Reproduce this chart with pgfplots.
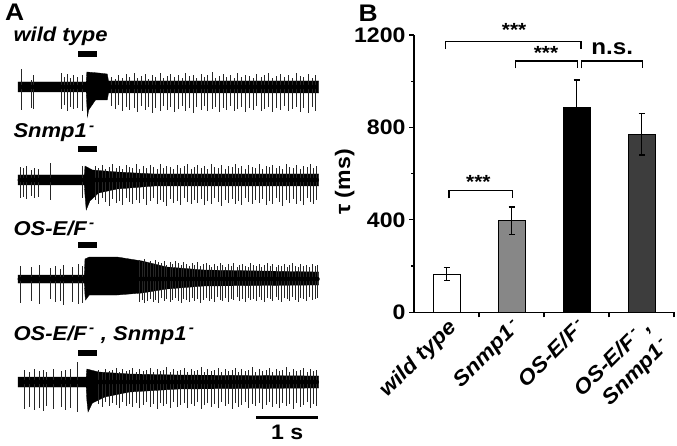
\documentclass[border=0pt]{standalone}
\usepackage{fontspec}
\setmainfont{Liberation Sans}[FakeStretch=1.1]
\usepackage{pgfplots}
\pgfplotsset{compat=1.18}
\usepackage{pgfplotstable}

% spikes: time (s), height above and below the baseline
\pgfplotstableread[row sep=\\]{
t up dn \\
0.06 18 23 \\ 0.21 7 21 \\ 0.25 12 22 \\ 0.70 14 22 \\ 0.74 10 18 \\ 0.79 13 24 \\ 0.84 9 20 \\ 0.90 12 22 \\ 0.95 10 21 \\ 1.03 12 24 \\
1.50 10 19 \\ 1.57 8 22 \\ 1.62 12 18 \\ 1.69 9 24 \\ 1.75 13 20 \\ 1.80 10 23 \\ 1.87 14 21 \\ 1.92 9 25 \\ 1.99 11 19 \\ 2.05 13 23 \\
2.10 8 20 \\ 2.17 12 26 \\ 2.22 10 21 \\ 2.29 14 24 \\ 2.34 9 19 \\ 2.41 11 23 \\ 2.46 13 20 \\ 2.52 10 25 \\ 2.58 12 22 \\ 2.65 9 19 \\
2.70 14 24 \\ 2.76 11 21 \\ 2.83 12 26 \\ 2.88 9 20 \\ 2.95 13 23 \\ 3.00 10 19 \\ 3.06 12 24 \\ 3.13 15 22 \\ 3.18 9 20 \\ 3.24 11 25 \\
3.31 13 21 \\ 3.36 10 23 \\ 3.43 12 19 \\ 3.49 9 24 \\ 3.54 14 22 \\ 3.61 10 20 \\ 3.67 12 25 \\ 3.73 11 21 \\ 3.79 9 23 \\ 3.85 13 19 \\
3.92 10 24 \\ 3.98 12 22 \\ 4.04 14 20 \\ 4.11 9 25 \\ 4.17 11 21 \\ 4.23 13 23 \\ 4.30 10 19 \\ 4.36 12 24 \\ 4.42 9 22 \\ 4.49 14 20 \\
4.55 11 25 \\ 4.61 10 21 \\ 4.68 13 26 \\ 4.74 9 20 \\ 4.80 12 24 \\
}\spkWT

\pgfplotstableread[row sep=\\]{
t up dn \\
0.03 13 18 \\ 0.09 12 17 \\ 0.14 14 19 \\ 0.22 10 16 \\ 0.27 12 18 \\ 0.33 11 17 \\ 0.52 17 20 \\ 1.03 14 18 \\
1.25 14 20 \\ 1.30 12 24 \\ 1.36 15 18 \\ 1.41 11 22 \\ 1.47 13 26 \\ 1.52 16 19 \\ 1.58 12 23 \\ 1.63 14 21 \\ 1.69 11 25 \\ 1.74 15 18 \\
1.80 13 22 \\ 1.85 12 24 \\ 1.91 16 20 \\ 1.96 11 23 \\ 2.02 14 19 \\ 2.07 12 25 \\ 2.13 15 21 \\ 2.18 13 18 \\ 2.24 11 24 \\ 2.29 16 20 \\
2.35 12 22 \\ 2.40 14 26 \\ 2.46 13 19 \\ 2.51 11 23 \\ 2.57 15 21 \\ 2.62 12 25 \\ 2.68 14 18 \\ 2.73 16 22 \\ 2.79 11 24 \\ 2.84 13 20 \\
2.90 15 23 \\ 2.95 12 19 \\ 3.01 14 25 \\ 3.06 11 21 \\ 3.12 16 24 \\ 3.17 13 18 \\ 3.23 12 22 \\ 3.28 15 26 \\ 3.34 11 20 \\ 3.39 14 23 \\
3.45 13 19 \\ 3.50 16 24 \\ 3.56 12 21 \\ 3.61 14 25 \\ 3.67 11 18 \\ 3.72 15 22 \\ 3.78 13 24 \\ 3.83 12 20 \\ 3.89 16 23 \\ 3.94 11 19 \\
4.00 14 25 \\ 4.05 13 21 \\ 4.11 15 24 \\ 4.16 12 18 \\ 4.22 14 22 \\ 4.27 11 26 \\ 4.33 16 20 \\ 4.38 13 23 \\ 4.44 12 19 \\ 4.49 15 24 \\
4.55 11 21 \\ 4.60 14 25 \\ 4.66 13 18 \\ 4.71 16 22 \\ 4.77 12 24 \\ 4.82 14 20 \\
}\spkSnmp

\pgfplotstableread[row sep=\\]{
t up dn \\
0.03 13 24 \\ 0.22 12 22 \\ 0.35 14 25 \\ 0.52 11 20 \\ 0.60 13 23 \\ 0.68 10 22 \\ 0.73 14 26 \\ 0.87 12 23 \\ 0.97 15 25 \\ 1.03 13 24 \\
1.95 19 23 \\ 2.00 17 21 \\ 2.04 20 24 \\ 2.09 16 22 \\ 2.13 18 20 \\ 2.18 15 23 \\ 2.22 19 21 \\ 2.27 17 24 \\ 2.31 16 19 \\ 2.36 18 22 \\
2.40 14 20 \\ 2.45 17 23 \\ 2.49 15 21 \\ 2.54 18 19 \\ 2.58 16 22 \\ 2.63 14 24 \\ 2.67 17 20 \\ 2.72 15 21 \\ 2.76 13 23 \\ 2.81 16 19 \\
2.85 14 22 \\ 2.90 17 20 \\ 2.94 13 24 \\ 2.99 15 21 \\ 3.03 16 19 \\ 3.08 14 22 \\ 3.12 12 20 \\ 3.17 15 23 \\ 3.21 13 18 \\ 3.26 16 21 \\
3.30 14 22 \\ 3.35 12 19 \\ 3.39 15 23 \\ 3.44 13 20 \\ 3.48 16 21 \\ 3.53 12 18 \\ 3.57 14 22 \\ 3.62 15 20 \\ 3.66 13 23 \\ 3.71 12 19 \\
3.75 16 21 \\ 3.80 14 20 \\ 3.84 13 22 \\ 3.89 15 18 \\ 3.93 12 21 \\ 3.98 14 23 \\ 4.02 16 19 \\ 4.07 13 20 \\ 4.11 15 22 \\ 4.16 12 18 \\
4.20 14 21 \\ 4.25 13 23 \\ 4.29 15 19 \\ 4.34 12 20 \\ 4.38 14 22 \\ 4.43 16 18 \\ 4.47 13 21 \\ 4.52 12 23 \\ 4.56 15 19 \\ 4.61 13 20 \\
4.65 14 22 \\ 4.70 12 18 \\ 4.74 15 21 \\ 4.79 13 20 \\ 4.83 14 19 \\
}\spkOS

\pgfplotstableread[row sep=\\]{
t up dn \\
0.11 12 27 \\ 0.19 10 25 \\ 0.27 13 28 \\ 0.35 11 26 \\ 0.41 12 29 \\ 0.46 10 24 \\ 0.57 13 27 \\ 0.70 11 25 \\ 0.76 12 28 \\ 0.84 13 26 \\ 0.95 20 30 \\
1.30 12 22 \\ 1.36 10 25 \\ 1.41 13 20 \\ 1.47 11 24 \\ 1.52 12 21 \\ 1.58 14 23 \\ 1.63 10 26 \\ 1.69 13 20 \\ 1.74 11 24 \\ 1.80 12 22 \\
1.85 14 25 \\ 1.91 10 21 \\ 1.96 13 26 \\ 2.02 11 23 \\ 2.07 12 20 \\ 2.13 14 25 \\ 2.18 10 22 \\ 2.24 13 27 \\ 2.29 11 21 \\ 2.35 12 24 \\
2.40 15 22 \\ 2.46 10 26 \\ 2.51 13 20 \\ 2.57 11 25 \\ 2.62 12 23 \\ 2.68 14 21 \\ 2.73 10 26 \\ 2.79 13 22 \\ 2.84 11 24 \\ 2.90 12 20 \\
2.95 15 27 \\ 3.01 10 23 \\ 3.06 13 21 \\ 3.12 11 25 \\ 3.17 12 22 \\ 3.23 14 26 \\ 3.28 10 20 \\ 3.34 13 24 \\ 3.39 11 22 \\ 3.45 12 27 \\
3.50 14 21 \\ 3.56 10 25 \\ 3.61 13 23 \\ 3.67 11 20 \\ 3.72 12 26 \\ 3.78 15 22 \\ 3.83 10 24 \\ 3.89 13 21 \\ 3.94 11 27 \\ 4.00 12 23 \\
4.05 14 20 \\ 4.11 10 25 \\ 4.16 13 22 \\ 4.22 11 26 \\ 4.27 12 21 \\ 4.33 15 24 \\ 4.38 10 22 \\ 4.44 13 27 \\ 4.49 11 21 \\ 4.55 12 25 \\
4.60 14 23 \\ 4.66 10 20 \\ 4.71 13 26 \\ 4.77 11 22 \\ 4.82 12 24 \\
}\spkOSSnmp

\newcommand{\lab}{\fontsize{20}{24}\selectfont\bfseries}
\newcommand{\labB}{\fontsize{21}{22}\selectfont\bfseries}

\begin{document}
\begin{tikzpicture}
\useasboundingbox (0pt,0pt) rectangle (677pt,445pt);

% ---------------- panel A: recordings
\begin{axis}[at={(0pt,0pt)}, anchor=south west, scale only axis,
width=340pt, height=445pt,
xmin=-0.2903, xmax=5.1935, ymin=0, ymax=445,
axis lines=none, clip=false,
spikes/.style={only marks, mark=none,
  error bars/.cd, y dir=both, y explicit, error mark=none,
  error bar style={draw=black!85, line width=0.7pt}}]

% baseline noise bands
\addplot[fill=black, draw=black, line width=0.3pt] coordinates {
(0,363) (1.10,363) (1.11,373) (1.30,372) (1.44,371) (1.46,364) (4.85,364)
(4.85,352) (1.46,352) (1.44,345) (1.25,345) (1.14,335) (1.12,328) (1.11,340) (1.10,353) (0,353)};
\addplot[fill=black, draw=black, line width=0.3pt] coordinates {
(0,270) (1.07,270) (1.08,279) (1.20,275) (1.60,273) (2.20,271) (4.85,271)
(4.85,259) (2.20,259) (1.60,256) (1.30,252) (1.16,244) (1.10,235) (1.08,250) (1.07,260) (0,260)};
\addplot[fill=black, draw=black, line width=0.3pt] coordinates {
(0,170) (1.07,170) (1.08,186) (1.15,188) (1.60,188) (2.00,184) (2.40,178) (3.00,175) (4.85,173)
(4.85,160) (3.00,159) (2.40,156) (2.00,152) (1.60,150) (1.15,150) (1.09,145) (1.08,150) (1.07,162) (0,162)};
\addplot[fill=black, draw=black, line width=0.3pt] coordinates {
(0,68) (1.10,68) (1.11,76) (1.30,73) (1.80,71) (2.60,70) (4.85,69)
(4.85,57) (2.60,56) (1.80,53) (1.40,48) (1.20,42) (1.13,33) (1.11,45) (1.10,58) (0,58)};

% spikes
\addplot[spikes] table[x=t, y expr=358, y error plus=up, y error minus=dn] {\spkWT};
\addplot[spikes] table[x=t, y expr=265, y error plus=up, y error minus=dn] {\spkSnmp};
\addplot[spikes] table[x=t, y expr=166, y error plus=up, y error minus=dn] {\spkOS};
\addplot[spikes] table[x=t, y expr=63, y error plus=up, y error minus=dn] {\spkOSSnmp};

% stimulus bars
\addplot[black, line width=6pt] coordinates {(0.97,391) (1.27,391)};
\addplot[black, line width=6pt] coordinates {(0.97,296) (1.27,296)};
\addplot[black, line width=6pt] coordinates {(0.97,200) (1.27,200)};
\addplot[black, line width=6pt] coordinates {(0.97,92) (1.27,92)};

% scale bar
\addplot[black, line width=3pt] coordinates {(3.84,28) (4.84,28)};
\node[anchor=base, font=\labB] at (axis cs:4.34,6) {1 s};

\node[anchor=base west, font=\lab\itshape] at (axis cs:-0.129,403) {wild type};
\node[anchor=base west, font=\lab\itshape] at (axis cs:-0.129,307) {Snmp1\textsuperscript{\,-}};
\node[anchor=base west, font=\lab\itshape] at (axis cs:-0.129,210) {OS-E/F\textsuperscript{\,-}};
\node[anchor=base west, font=\lab\itshape] at (axis cs:-0.129,105) {OS-E/F\textsuperscript{\,-} , Snmp1\textsuperscript{\,-}};
\node[anchor=base west, inner sep=0pt, font=\fontsize{24}{26}\selectfont\bfseries] at (axis cs:-0.21,424) {A};
\end{axis}

% ---------------- panel B: time constants
\begin{axis}[at={(414pt,132.7pt)}, anchor=south west, scale only axis,
width=260pt, height=277.3pt,
xmin=-0.5, xmax=3.5, ymin=0, ymax=1200,
axis x line*=bottom, axis y line*=left,
axis line style={line width=1.4pt},
clip=false,
tick align=outside, major tick length=5pt, minor tick length=3pt,
tick style={black, line width=1.2pt},
ytick={0,400,800,1200}, minor ytick={200,600,1000},
yticklabel style={font=\labB},
/pgf/number format/assume math mode=true,
/pgf/number format/1000 sep={},
ylabel={τ (ms)},
ylabel style={font=\labB, at={(axis description cs:-0.215,0.47)}, anchor=south},
xtick={0.5,1.5,2.5,3.5}, xticklabels={,,,},
extra x ticks={0,1,2,3},
extra x tick labels={wild type, Snmp1\textsuperscript{\,-}, OS-E/F\textsuperscript{\,-},
  {OS-E/F\textsuperscript{\,-} ,\\[4pt]Snmp1\textsuperscript{\,-}}},
extra x tick style={major tick length=0pt,
  xticklabel style={rotate=45, anchor=north east, align=right, font=\labB\itshape}},
barB/.style={ybar, bar width=27pt, bar shift=0pt, draw=black, line width=1pt,
  error bars/.cd, y dir=both, y explicit,
  error bar style={black, line width=1.5pt},
  error mark options={rotate=90, mark size=3pt, line width=1.2pt}}]

\addplot[fill=white, barB] coordinates {(0,165) +- (0,28)};
\addplot[fill=black!47, barB] coordinates {(1,397) +- (0,59)};
\addplot[fill=black, barB] coordinates {(2,885) +- (0,120)};
\addplot[fill=black!76, barB] coordinates {(3,770) +- (0,89)};

% significance brackets
\addplot[black, line width=1.3pt] coordinates {(-0.02,1139) (-0.02,1171) (2.07,1171) (2.07,1139)};
\addplot[black, line width=1.3pt] coordinates {(1.06,1056) (1.06,1087) (2.01,1087) (2.01,1056)};
\addplot[black, line width=1.3pt] coordinates {(2.08,1056) (2.08,1087) (3.01,1087) (3.01,1056)};
\addplot[black, line width=1.3pt] coordinates {(0.04,493) (0.04,526) (1.01,526) (1.01,493)};
\node[font=\fontsize{19}{20}\selectfont\bfseries] at (axis cs:1.04,1222) {***};
\node[font=\fontsize{19}{20}\selectfont\bfseries] at (axis cs:1.53,1121) {***};
\node[font=\fontsize{19}{20}\selectfont\bfseries] at (axis cs:0.49,566) {***};
\node[font=\fontsize{22}{24}\selectfont\bfseries] at (axis cs:2.55,1140) {n.s.};
\node[anchor=base west, inner sep=0pt, font=\fontsize{24}{26}\selectfont\bfseries] at (axis cs:-1.354,1260) {B};
\end{axis}
\end{tikzpicture}
\end{document}
